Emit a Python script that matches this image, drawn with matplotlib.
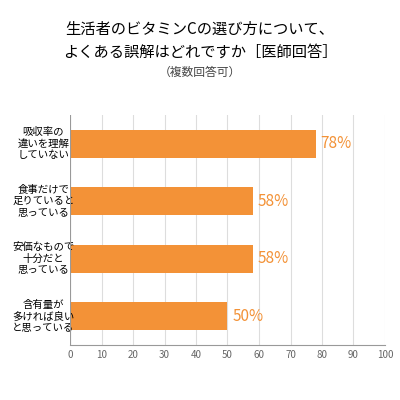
import matplotlib.pyplot as plt

plt.rcParams['font.family'] = ['Noto Sans CJK JP', 'DejaVu Sans']

categories = ["吸収率の\n違いを理解\nしていない", "食事だけで\n足りていると\n思っている",
              "安価なもので\n十分だと\n思っている", "含有量が\n多ければ良い\nと思っている"]
values = [78, 58, 58, 50]
ticks = list(range(0, 101, 10))
orange = "#F39237"

fig = plt.figure(figsize=(4, 4), dpi=100)
ax = fig.add_axes([0.175, 0.1375, 0.7875, 0.575])
y = list(range(len(values)))[::-1]
ax.barh(y, values, height=0.48, color=orange, zorder=2)
for yi, v in zip(y, values):
    ax.text(v + 1.5, yi, f"{v}%", color=orange, va='center', ha='left', fontsize=11)
    ax.text(-0.085, yi, categories[y.index(yi) if False else len(values) - 1 - yi],
            transform=ax.get_yaxis_transform(), ha='center', va='center',
            fontsize=7.5, linespacing=1.2, multialignment='center')
ax.set_yticks([])
ax.set_xlim(0, 100)
ax.set_ylim(-0.5, 3.5)
ax.set_xticks(ticks)
ax.tick_params(axis='x', labelsize=7, colors='#666666', length=0)
ax.grid(axis='x', color='#dddddd', lw=0.8, zorder=0)
for s in ['top', 'right', 'left']:
    ax.spines[s].set_visible(False)
ax.spines['bottom'].set_color('#999999')
ax.axvline(0, color='#999999', lw=0.8, zorder=3)

fig.text(0.5, 0.915, "生活者のビタミンCの選び方について、", ha='center', fontsize=11)
fig.text(0.5, 0.858, "よくある誤解はどれですか［医師回答］", ha='center', fontsize=11)
fig.text(0.5, 0.81, "（複数回答可）", ha='center', fontsize=8.5, color='#444444')

fig.savefig("out.png")
